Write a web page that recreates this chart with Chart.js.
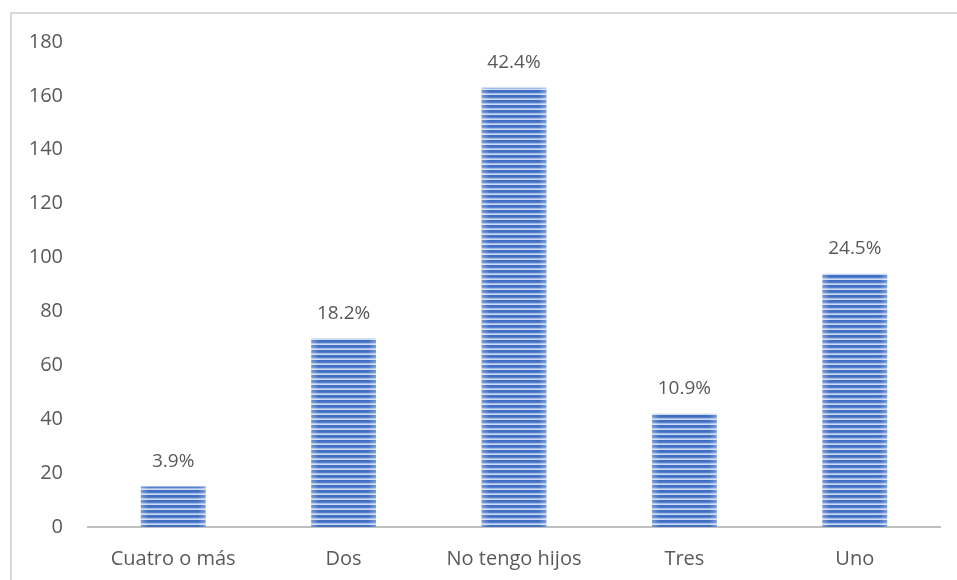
<!DOCTYPE html>
<html>
<head>
<meta charset="utf-8">
<script src="https://cdn.jsdelivr.net/npm/chart.js@4/dist/chart.umd.min.js"></script>
<style>
  html, body { margin: 0; padding: 0; background: #fff; }
  #wrap { position: relative; width: 957px; height: 580px; overflow: hidden; }
  #frame { position: absolute; left: 10px; top: 12px; width: 980px; height: 600px;
           border: 2px solid #d9d9d9; box-sizing: border-box; }
  canvas { position: absolute; left: 0; top: 0; }
</style>
</head>
<body>
<div id="wrap">
  <div id="frame"></div>
  <canvas id="c" width="957" height="580"></canvas>
</div>
<script>
// Number of children per respondent
const categories = ['Cuatro o más', 'Dos', 'No tengo hijos', 'Tres', 'Uno'];
const counts = [15, 70, 163, 42, 94];
const shares = ['3.9%', '18.2%', '42.4%', '10.9%', '24.5%'];
const yTicks = [0, 20, 40, 60, 80, 100, 120, 140, 160, 180];

const FONT = '"Open Sans", Lato, sans-serif';
const TEXT = '#595959';

// Horizontal-stripe fill for the bars
function stripePattern(ctx) {
  const tile = document.createElement('canvas');
  tile.width = 4; tile.height = 5;
  const t = tile.getContext('2d');
  t.fillStyle = '#3f6ec3';
  t.fillRect(0, 0, 4, 5);
  t.fillStyle = '#5580cd';
  t.fillRect(0, 2, 4, 1);
  t.fillStyle = '#9fb9e7';
  t.fillRect(0, 3, 4, 1);
  t.fillStyle = '#cddaf2';
  t.fillRect(0, 4, 4, 1);
  return ctx.createPattern(tile, 'repeat');
}

// Soft light sheen along each bar's left and right edges
const barSheen = {
  id: 'barSheen',
  afterDatasetsDraw(chart) {
    const ctx = chart.ctx;
    chart.getDatasetMeta(0).data.forEach(bar => {
      const w = bar.width, x0 = bar.x - w / 2, top = bar.y, h = bar.base - bar.y;
      const g = ctx.createLinearGradient(x0, 0, x0 + w, 0);
      g.addColorStop(0, 'rgba(255,255,255,0.3)');
      g.addColorStop(0.12, 'rgba(255,255,255,0)');
      g.addColorStop(0.88, 'rgba(255,255,255,0)');
      g.addColorStop(1, 'rgba(255,255,255,0.3)');
      ctx.save();
      ctx.fillStyle = g;
      ctx.fillRect(x0, top, w, h);
      ctx.restore();
    });
  }
};

// Percentage labels above each bar
const shareLabels = {
  id: 'shareLabels',
  afterDatasetsDraw(chart) {
    const ctx = chart.ctx;
    ctx.save();
    ctx.font = '19px ' + FONT;
    ctx.fillStyle = TEXT;
    ctx.textAlign = 'center';
    ctx.textBaseline = 'middle';
    chart.getDatasetMeta(0).data.forEach((bar, i) => {
      ctx.fillText(shares[i], bar.x, bar.y - 25);
    });
    ctx.restore();
  }
};

const ctx = document.getElementById('c').getContext('2d');
new Chart(ctx, {
  type: 'bar',
  data: {
    labels: categories,
    datasets: [{
      data: counts,
      backgroundColor: stripePattern(ctx),
      borderWidth: 0,
      categoryPercentage: 1,
      barPercentage: 0.38
    }]
  },
  options: {
    responsive: false,
    animation: false,
    devicePixelRatio: 1,
    layout: { padding: { left: 0, right: 17, top: 42, bottom: 0 } },
    plugins: { legend: { display: false }, tooltip: { enabled: false } },
    scales: {
      x: {
        grid: { display: false, drawTicks: false },
        border: { display: true, color: '#bfbfbf', width: 2 },
        ticks: { color: TEXT, font: { family: FONT, size: 20 }, padding: 20, maxRotation: 0 },
        afterFit(s) { s.height = 53; }
      },
      y: {
        min: 0, max: 180,
        afterBuildTicks(s) { s.ticks = yTicks.map(v => ({ value: v })); },
        grid: { display: false, drawTicks: false },
        border: { display: false },
        ticks: { color: TEXT, font: { family: FONT, size: 20 }, padding: 25 },
        afterFit(s) { s.width = 88; }
      }
    }
  },
  plugins: [barSheen, shareLabels]
});
</script>
</body>
</html>
